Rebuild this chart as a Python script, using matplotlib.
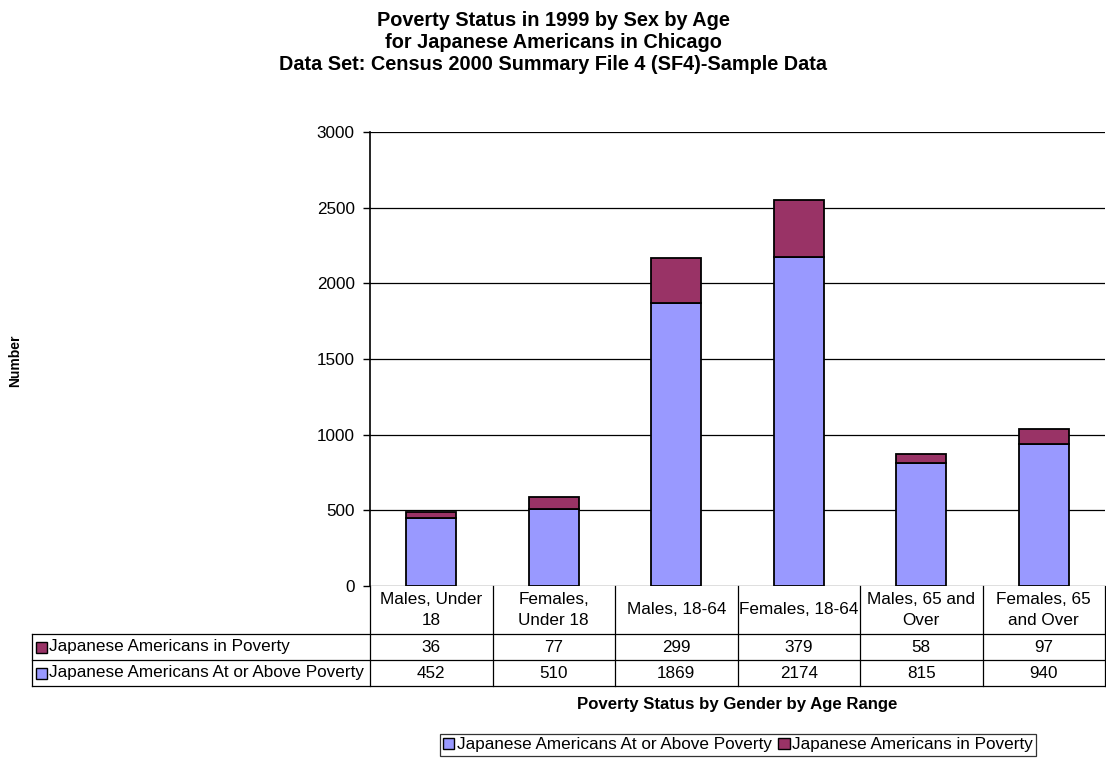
import matplotlib
matplotlib.use("Agg")
import matplotlib.pyplot as plt
from matplotlib.patches import Rectangle
from matplotlib.lines import Line2D
import matplotlib.transforms as mtrans

plt.rcParams['font.family'] = ['Liberation Sans', 'DejaVu Sans']

categories = ["Males, Under\n18", "Females,\nUnder 18", "Males, 18-64", "Females, 18-64",
              "Males, 65 and\nOver", "Females, 65\nand Over"]
above_poverty = [452, 510, 1869, 2174, 815, 940]
in_poverty = [36, 77, 299, 379, 58, 97]
series_names = ["Japanese Americans At or Above Poverty", "Japanese Americans in Poverty"]
colors = ["#9999FF", "#993366"]
yticks = [0, 500, 1000, 1500, 2000, 2500, 3000]

W, H = 1106, 758
fig = plt.figure(figsize=(W / 100, H / 100), dpi=100)

def fx(px):
    return px / W

def fy(py):
    return 1 - py / H

FS = 12.3

ax_l, ax_r, ax_t, ax_b = 370, 1105, 132, 586
ax = fig.add_axes([fx(ax_l), fy(ax_b), fx(ax_r - ax_l), fy(ax_t) - fy(ax_b)])
n = len(categories)
xs = [i + 0.5 for i in range(n)]
ax.set_xlim(0, n)
ax.set_ylim(0, 3000)
ax.set_yticks(yticks)
ax.set_yticklabels([str(t) for t in yticks], fontsize=FS)
ax.tick_params(axis='y', length=5, width=1, color='black', pad=6)
ax.set_xticks([])
for s in ['top', 'right', 'bottom']:
    ax.spines[s].set_visible(False)
ax.spines['left'].set_linewidth(1.2)
ax.yaxis.grid(True, color='black', linewidth=0.9)
ax.set_axisbelow(True)

ax.bar(xs, above_poverty, width=0.41, color=colors[0], edgecolor='black', linewidth=1.3, zorder=3)
ax.bar(xs, in_poverty, width=0.41, bottom=above_poverty, color=colors[1], edgecolor='black',
       linewidth=1.3, zorder=3)

# Data table
tl = 32
r0, r1, r2, r3 = 586, 634, 660, 686
lw = 0.9
trans_x = mtrans.blended_transform_factory(ax.transData, fig.transFigure)

def hline(x0, x1, py):
    fig.add_artist(Line2D([fx(x0), fx(x1)], [fy(py), fy(py)], color='black', lw=lw,
                          transform=fig.transFigure))

def vline(px, y0, y1):
    fig.add_artist(Line2D([fx(px), fx(px)], [fy(y0), fy(y1)], color='black', lw=lw,
                          transform=fig.transFigure))

hline(tl, ax_r, r1)
hline(tl, ax_r, r2)
hline(tl, ax_r, r3)
vline(tl, r1, r3)
for i in range(n + 1):
    px = ax_l + (ax_r - ax_l) * i / n
    vline(px, r0, r3)

for i, c in enumerate(categories):
    fig.text(xs[i], fy((r0 + r1) / 2), c, transform=trans_x, ha='center', va='center',
             fontsize=FS, linespacing=1.5)
    fig.text(xs[i], fy((r1 + r2) / 2), str(in_poverty[i]), transform=trans_x, ha='center',
             va='center', fontsize=FS)
    fig.text(xs[i], fy((r2 + r3) / 2), str(above_poverty[i]), transform=trans_x, ha='center',
             va='center', fontsize=FS)

rows = [(series_names[1], colors[1], r1, r2), (series_names[0], colors[0], r2, r3)]
for name, col, ya, yb in rows:
    yc = (ya + yb) / 2
    fig.add_artist(Rectangle((fx(36), fy(yc + 5.5)), fx(11), fy(yc - 5.5) - fy(yc + 5.5),
                             facecolor=col, edgecolor='black', lw=1.0, transform=fig.transFigure))
    fig.text(fx(49), fy(yc), name, ha='left', va='center', fontsize=FS)

# Titles
TFS = 14.3
fig.text(0.5, fy(20), "Poverty Status in 1999 by Sex by Age", ha='center', va='center',
         fontsize=TFS, fontweight='bold')
fig.text(0.5, fy(42), "for Japanese Americans in Chicago", ha='center', va='center',
         fontsize=TFS, fontweight='bold')
fig.text(0.5, fy(64), "Data Set: Census 2000 Summary File 4 (SF4)-Sample Data", ha='center',
         va='center', fontsize=TFS, fontweight='bold')
fig.text(fx(15), fy(361), "Number", rotation=90, ha='center', va='center', fontsize=10,
         fontweight='bold')
fig.text(fx((ax_l + ax_r) / 2), fy(704), "Poverty Status by Gender by Age Range", ha='center',
         va='center', fontsize=12.1, fontweight='bold')

handles = [Rectangle((0, 0), 1, 1, facecolor=colors[0], edgecolor='black', lw=1.0),
           Rectangle((0, 0), 1, 1, facecolor=colors[1], edgecolor='black', lw=1.0)]
leg = fig.legend(handles, series_names, loc='center', bbox_to_anchor=(fx(738), fy(745)),
                 ncol=2, fontsize=FS, frameon=True, fancybox=False, edgecolor='black',
                 handlelength=0.65, handleheight=0.65, handletextpad=0.15, columnspacing=0.4,
                 borderpad=0.2, borderaxespad=0)
leg.get_frame().set_linewidth(0.9)

fig.savefig("out.png", dpi=100)
